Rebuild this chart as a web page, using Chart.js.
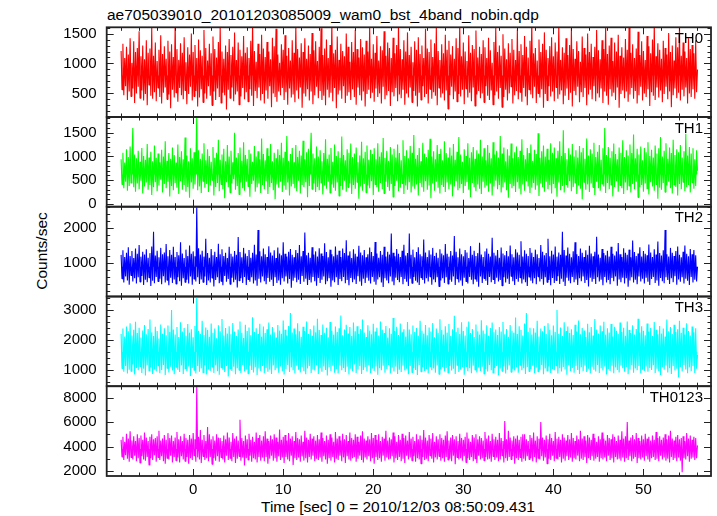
<!DOCTYPE html>
<html>
<head>
<meta charset="utf-8">
<script src="https://cdn.jsdelivr.net/npm/chart.js@4.4.1/dist/chart.umd.min.js"></script>
<style>
  body { margin: 0; background: #fff; }
  #wrap { position: relative; width: 717px; height: 516px; overflow: hidden;
          font-family: "Liberation Sans", Arial, Helvetica, sans-serif; color: #000; }
  #wrap canvas { position: absolute; left: 0; top: 0; }
  .txt { position: absolute; white-space: nowrap; font-size: 15.5px; line-height: 1; }
</style>
</head>
<body>
<div id="wrap">
  <div class="txt" style="left:107px;top:7px">ae705039010_20101203085009_wam0_bst_4band_nobin.qdp</div>
  <div class="txt" style="left:261px;top:498.6px">Time [sec] 0 = 2010/12/03 08:50:09.431</div>
  <div class="txt" style="left:42px;top:251px;transform:translate(-50%,-50%) rotate(-90deg)">Counts/sec</div>
  <canvas id="p0" width="717" height="516"></canvas>
  <canvas id="p1" width="717" height="516"></canvas>
  <canvas id="p2" width="717" height="516"></canvas>
  <canvas id="p3" width="717" height="516"></canvas>
  <canvas id="p4" width="717" height="516"></canvas>
</div>
<script>
// light curve bins: first bin at -8 s, 0.1 s wide
const binStart = -8;
const binSize = 0.1;

const bandNames = ['TH0', 'TH1', 'TH2', 'TH3', 'TH0123'];

const th0 = [
  1210, 560, 1330, 470, 1090, 620, 1280, 390, 1150, 530, 1420, 450, 1010, 580, 1370, 340, 1190, 500, 1260, 610,
  1540, 420, 1120, 550, 1300, 380, 1070, 490, 1390, 300, 1180, 640, 1250, 460, 1600, 410, 1130, 520, 1350, 370,
  1040, 590, 1230, 440, 1470, 330, 1160, 510, 1290, 600, 1080, 400, 1380, 480, 1200, 250, 1320, 560, 1110, 430,
  1650, 510, 1240, 360, 1060, 590, 1340, 470, 1180, 400, 1440, 550, 1020, 320, 1270, 490, 1150, 610, 1500, 380,
  1190, 450, 1310, 540, 1090, 280, 1400, 430, 1220, 570, 1130, 350, 1560, 500, 1260, 410, 1050, 620, 1330, 460,
  1170, 300, 1450, 530, 1240, 390, 1100, 580, 1360, 440, 1610, 340, 1200, 510, 1080, 470, 1300, 230, 1190, 560,
  1410, 420, 1140, 600, 1280, 370, 1520, 480, 1060, 530, 1350, 310, 1230, 450, 1120, 590, 1460, 400, 1180, 520,
  1270, 360, 1090, 570, 1380, 460, 1700, 290, 1210, 540, 1030, 420, 1330, 600, 1160, 380, 1480, 490, 1250, 330,
  1110, 550, 1360, 410, 1200, 620, 1070, 270, 1430, 500, 1290, 440, 1580, 360, 1150, 530, 1010, 470, 1320, 590,
  1230, 390, 1470, 520, 1130, 310, 1260, 580, 1050, 430, 1390, 480, 1180, 350, 1620, 550, 1240, 410, 1100, 600,
  1340, 260, 1190, 500, 1420, 450, 1080, 570, 1300, 380, 1160, 530, 1510, 320, 1220, 470, 1370, 610, 1040, 420,
  1280, 540, 1590, 390, 1140, 460, 1250, 300, 1400, 560, 1090, 430, 1310, 510, 1660, 370, 1170, 590, 1230, 250,
  1450, 480, 1060, 550, 1330, 410, 1210, 620, 1120, 340, 1500, 460, 1280, 520, 1030, 390, 1360, 570, 1190, 440,
  1560, 310, 1240, 600, 1100, 470, 1410, 380, 1270, 530, 1150, 280, 1380, 490, 1200, 560, 1630, 420, 1080, 510,
  1320, 360, 1180, 580, 1460, 440, 1050, 500, 1290, 330, 1220, 610, 1540, 400, 1130, 470, 1350, 540, 1260, 290,
  1090, 520, 1430, 450, 1170, 590, 1310, 370, 1680, 480, 1240, 420, 1070, 560, 1390, 310, 1200, 500, 1520, 430,
  1140, 600, 1280, 350, 1020, 540, 1370, 460, 1230, 280, 1440, 510, 1160, 390, 1300, 620, 1090, 440, 1580, 490,
  1250, 330, 1190, 570, 1400, 410, 1110, 520, 1340, 460, 1600, 300, 1210, 590, 1060, 430, 1320, 500, 1170, 380,
  1480, 550, 1230, 240, 1380, 470, 1150, 610, 1290, 400, 1080, 530, 1420, 360, 1260, 490, 1650, 450, 1120, 560,
  1350, 320, 1200, 580, 1040, 430, 1470, 510, 1180, 370, 1310, 600, 1240, 290, 1550, 480, 1100, 540, 1280, 420,
  1160, 500, 1390, 350, 1270, 620, 1090, 460, 1430, 390, 1220, 550, 1010, 310, 1360, 470, 1610, 530, 1190, 410,
  1300, 590, 1130, 270, 1490, 440, 1250, 560, 1070, 380, 1340, 500, 1180, 610, 1410, 330, 1230, 470, 1060, 540,
  1570, 400, 1210, 520, 1320, 360, 1140, 590, 1460, 450, 1280, 300, 1100, 560, 1380, 480, 1690, 420, 1170, 610,
  1260, 340, 1050, 500, 1400, 430, 1190, 570, 1330, 260, 1520, 490, 1230, 380, 1090, 620, 1290, 450, 1440, 530,
  1120, 370, 1350, 600, 1200, 410, 1630, 480, 1060, 550, 1270, 320, 1180, 460, 1420, 580, 1140, 390, 1310, 510,
  1590, 280, 1240, 540, 1080, 470, 1370, 610, 1210, 350, 1030, 520, 1450, 440, 1260, 590, 1150, 300, 1500, 480,
  1190, 560, 1330, 400, 1110, 620, 1280, 370, 1560, 500, 1220, 430, 1070, 580, 1390, 340, 1240, 530, 1640, 460,
  1160, 310, 1300, 570, 1430, 450, 1040, 510, 1350, 390, 1200, 600, 1480, 260, 1130, 490, 1270, 550, 1100, 420,
  1410, 530, 1230, 360, 1600, 480, 1180, 590, 1320, 410, 1090, 540, 1250, 330, 1530, 470, 1140, 610, 1370, 380,
  1210, 500, 1060, 440, 1460, 570, 1290, 290, 1170, 520, 1400, 460, 1660, 390, 1120, 600, 1340, 430, 1230, 550,
  1080, 350, 1380, 490, 1260, 610, 1150, 400, 1510, 530, 1190, 270, 1300, 470, 1050, 580, 1440, 420, 1270, 510,
  1620, 380, 1130, 560, 1350, 450, 1200, 600, 1090, 330, 1420, 500, 1240, 440, 1310, 570, 1170, 410, 1390, 520,
  900
];

const th1 = [
  940, 410, 1080, 330, 870, 470, 1150, 280, 990, 380, 1210, 440, 920, 1600, 350, 1040, 260, 960, 430, 1120,
  310, 890, 490, 1180, 220, 1010, 370, 930, 450, 1260, 300, 980, 400, 1100, 190, 900, 350, 1230, 460, 970,
  270, 1060, 390, 880, 510, 1140, 240, 1000, 420, 1320, 330, 910, 470, 1070, 160, 950, 380, 1190, 290, 1030,
  440, 870, 340, 1250, 210, 990, 480, 1110, 300, 940, 400, 1400, 260, 1020, 360, 900, 130, 1170, 450, 960,
  320, 1090, 410, 880, 1850, 290, 1130, 370, 950, 230, 1060, 480, 1280, 340, 920, 420, 1150, 250, 1010, 390,
  890, 500, 1200, 180, 970, 360, 1080, 440, 1350, 270, 930, 410, 1040, 310, 1160, 120, 900, 460, 1240, 350,
  1000, 240, 1120, 430, 880, 520, 1500, 300, 980, 380, 1070, 200, 1190, 450, 910, 330, 1300, 280, 1030, 470,
  950, 370, 1140, 150, 1060, 420, 890, 490, 1220, 260, 1000, 350, 1110, 430, 940, 230, 1380, 400, 1050, 310,
  920, 480, 1170, 210, 1010, 360, 1260, 440, 900, 290, 1080, 100, 960, 410, 1150, 340, 1030, 470, 1290, 250,
  970, 390, 1100, 300, 1430, 450, 910, 180, 1050, 370, 1180, 420, 880, 330, 1240, 270, 990, 490, 1120, 220,
  1020, 400, 1330, 350, 940, 460, 1090, 140, 1160, 380, 920, 1500, 310, 1060, 430, 960, 250, 1210, 360, 1000,
  290, 1130, 440, 900, 200, 1070, 390, 1360, 320, 950, 470, 1040, 230, 1180, 410, 890, 340, 1250, 280, 1010,
  450, 1110, 170, 970, 380, 1420, 300, 1030, 490, 920, 260, 1150, 350, 1080, 430, 1270, 210, 990, 400, 1060,
  320, 1190, 460, 880, 110, 1020, 370, 1310, 280, 960, 420, 1100, 240, 1230, 390, 930, 330, 1140, 480, 1050,
  190, 1170, 410, 940, 350, 1280, 260, 1000, 440, 1090, 310, 1390, 220, 970, 470, 1120, 360, 910, 280, 1200,
  420, 1040, 150, 1160, 380, 980, 490, 1250, 270, 1070, 340, 920, 430, 1340, 210, 1010, 390, 1130, 300, 960,
  460, 1220, 240, 1080, 370, 1450, 320, 950, 410, 1030, 180, 1180, 440, 900, 350, 1290, 260, 1060, 480, 990,
  300, 1140, 390, 1370, 120, 1000, 430, 1110, 280, 940, 470, 1240, 340, 1050, 220, 1160, 400, 920, 360, 1320,
  250, 1070, 450, 980, 310, 1190, 410, 1020, 160, 1260, 370, 930, 480, 1100, 290, 1410, 330, 1040, 420, 890,
  230, 1150, 380, 1010, 460, 1280, 300, 970, 140, 1090, 440, 1200, 350, 950, 270, 1130, 410, 1060, 320, 1350,
  210, 1000, 470, 1170, 340, 920, 390, 1240, 260, 1080, 430, 960, 180, 1300, 370, 1040, 490, 1120, 310, 980,
  400, 1430, 240, 1060, 350, 1190, 450, 900, 290, 1150, 130, 1020, 420, 1270, 330, 960, 380, 1090, 250, 1210,
  460, 990, 320, 1120, 200, 1360, 410, 1030, 280, 940, 480, 1180, 370, 1070, 230, 1250, 340, 910, 440, 1140,
  300, 1050, 390, 1490, 170, 970, 430, 1110, 350, 1230, 260, 1000, 470, 1160, 310, 930, 400, 1280, 220, 1080,
  420, 1190, 330, 960, 150, 1120, 450, 1320, 290, 1010, 380, 1550, 240, 1070, 410, 940, 340, 1170, 480, 1040,
  270, 1260, 360, 1000, 440, 1130, 210, 980, 390, 1220, 320, 1090, 100, 1180, 460, 950, 300, 1380, 410, 1020,
  250, 1150, 430, 1060, 350, 1290, 190, 990, 470, 1100, 330, 1240, 280, 930, 420, 1170, 370, 1600, 230, 1030,
  440, 1200, 310, 970, 400, 1110, 160, 1270, 360, 1050, 480, 940, 260, 1190, 390, 1080, 330, 1340, 210, 990,
  450, 1130, 290, 1020, 380, 1250, 240, 1070, 420, 1460, 310, 960, 470, 1160, 140, 1040, 350, 1210, 400, 920,
  260, 1180, 430, 1090, 320, 1300, 200, 1010, 460, 1140, 370, 980, 280, 1230, 410, 1060, 110, 1170, 340, 1410,
  300, 1000, 440, 1120, 250, 1280, 390, 950, 470, 1190, 330, 1070, 220, 1350, 400, 1030, 360, 1150, 180, 1090,
  420, 1240, 310, 980, 460, 1110, 270, 1480, 350, 1020, 400, 1200, 240, 1060, 450, 1170, 320, 940, 380, 1130,
  700
];

const th2 = [
  1240, 560, 1370, 450, 1180, 620, 1300, 510, 1460, 390, 1210, 650, 1350, 480, 1150, 570, 1420, 420, 1270, 600,
  1520, 470, 1190, 640, 1330, 380, 1250, 530, 1400, 460, 1160, 590, 1290, 350, 1480, 500, 1900, 430, 1220, 610,
  1360, 480, 1170, 560, 1440, 400, 1260, 630, 1310, 450, 1550, 520, 1200, 370, 1380, 590, 1240, 440, 1470, 540,
  1180, 410, 1320, 600, 1230, 490, 1600, 360, 1280, 570, 1150, 460, 1390, 530, 1210, 420, 1510, 620, 1270, 390,
  1340, 550, 1200, 480, 2600, 600, 1430, 410, 1250, 540, 1360, 460, 1190, 620, 1700, 380, 1290, 510, 1160, 450,
  1410, 580, 1230, 340, 1330, 520, 1180, 600, 1560, 430, 1260, 490, 1400, 370, 1210, 640, 1300, 470, 1150, 550,
  1470, 400, 1270, 590, 1190, 460, 1350, 530, 1240, 310, 1750, 500, 1320, 570, 1170, 440, 1440, 610, 1280, 380,
  1210, 540, 1380, 470, 1160, 600, 1300, 420, 1530, 510, 1250, 360, 1950, 560, 1340, 450, 1200, 620, 1420, 490,
  1260, 400, 1180, 580, 1490, 470, 1310, 530, 1220, 350, 1370, 600, 1150, 440, 1450, 510, 1280, 390, 1230, 570,
  1600, 480, 1270, 620, 1190, 420, 1330, 550, 1410, 300, 1240, 500, 1170, 590, 1380, 460, 1290, 530, 1520, 410,
  1200, 640, 1350, 470, 1880, 560, 1230, 380, 1300, 520, 1160, 450, 1460, 610, 1250, 490, 1340, 360, 1190, 580,
  1430, 440, 1280, 530, 1210, 620, 1570, 400, 1320, 490, 1170, 570, 1390, 330, 1260, 510, 1200, 460, 1480, 600,
  1240, 380, 1360, 550, 1180, 490, 1420, 610, 1290, 430, 1660, 520, 1220, 370, 1340, 580, 1150, 460, 1400, 540,
  1270, 410, 1190, 630, 1500, 480, 1310, 360, 1230, 560, 1380, 440, 1170, 590, 1260, 500, 1450, 420, 1320, 610,
  1210, 470, 1610, 390, 1280, 540, 1160, 600, 1350, 450, 1240, 320, 1470, 570, 1190, 510, 1330, 430, 1250, 620,
  1850, 480, 1300, 370, 1200, 590, 1410, 520, 1270, 460, 1180, 610, 1360, 400, 1530, 550, 1220, 470, 1290, 350,
  1850, 560, 1240, 430, 1390, 610, 1170, 500, 1320, 450, 1460, 380, 1260, 590, 1200, 520, 1680, 420, 1310, 570,
  1180, 480, 1370, 620, 1250, 390, 1440, 540, 1210, 460, 1300, 600, 1160, 340, 1400, 510, 1280, 570, 1230, 440,
  1550, 600, 1270, 410, 1190, 530, 1350, 470, 1220, 620, 1780, 380, 1330, 560, 1170, 450, 1420, 510, 1260, 360,
  1200, 590, 1380, 480, 1310, 420, 1150, 610, 1490, 530, 1240, 400, 1360, 550, 1210, 470, 1290, 330, 1590, 620,
  1250, 440, 1180, 570, 1340, 500, 1420, 380, 1270, 610, 1190, 460, 1730, 540, 1300, 410, 1220, 590, 1380, 480,
  1160, 520, 1450, 360, 1280, 600, 1230, 450, 1350, 560, 1200, 410, 1510, 630, 1260, 490, 1170, 380, 1400, 550,
  1310, 470, 1240, 590, 1630, 420, 1190, 540, 1370, 460, 1270, 350, 1210, 610, 1440, 500, 1300, 430, 1180, 570,
  1390, 400, 1260, 620, 1150, 480, 1520, 550, 1330, 390, 1230, 600, 1290, 460, 1700, 520, 1200, 370, 1360, 580,
  1250, 440, 1480, 510, 1190, 630, 1310, 410, 1240, 560, 1900, 470, 1380, 350, 1220, 590, 1450, 500, 1270, 430,
  1170, 610, 1340, 460, 1600, 540, 1260, 380, 1210, 570, 1420, 490, 1300, 620, 1180, 440, 1370, 520, 1240, 340,
  1500, 590, 1280, 470, 1200, 550, 1330, 410, 1760, 600, 1250, 480, 1160, 530, 1410, 370, 1290, 610, 1230, 450,
  1360, 520, 1190, 400, 1470, 580, 1270, 490, 1220, 620, 1340, 360, 1580, 540, 1260, 460, 1180, 590, 1430, 420,
  1300, 570, 1240, 330, 1390, 510, 1170, 600, 1650, 450, 1320, 530, 1210, 400, 1280, 620, 1460, 480, 1190, 560,
  1350, 420, 1270, 590, 1230, 470, 1540, 380, 1310, 550, 1180, 610, 1400, 440, 1250, 510, 1620, 360, 1290, 580,
  1220, 490, 1370, 430, 1950, 600, 1260, 520, 1190, 410, 1440, 570, 1300, 460, 1210, 630, 1350, 390, 1480, 540,
  1240, 470, 1170, 600, 1330, 420, 1510, 560, 1270, 500, 1200, 380, 1410, 610, 1260, 450, 1380, 530, 1230, 480,
  900
];

const th3 = [
  2200, 1050, 2380, 940, 2120, 1130, 2450, 880, 2290, 1010, 2560, 960, 2150, 1180, 2340, 850, 2610, 1070, 2230, 990,
  2410, 1120, 2080, 900, 2320, 1040, 2500, 820, 2190, 1160, 2370, 970, 2680, 1080, 2260, 870, 2130, 1020, 2440, 950,
  2300, 1140, 2050, 890, 2520, 1000, 2210, 1170, 2390, 830, 2160, 1060, 2480, 920, 2270, 1110, 3000, 980, 2350, 860,
  2180, 1090, 2430, 1010, 2100, 930, 2590, 1150, 2280, 870, 2400, 1040, 2140, 960, 2530, 1120, 2250, 800, 2360, 1070,
  2090, 990, 2470, 880, 3450, 1130, 2310, 940, 2200, 1050, 2640, 910, 2170, 1160, 2420, 850, 2330, 1020, 2110, 970,
  2550, 1100, 2240, 900, 2380, 1150, 2060, 960, 2490, 840, 2290, 1080, 2700, 1010, 2150, 930, 2400, 1130, 2220, 780,
  2460, 1040, 2190, 970, 2570, 1110, 2280, 860, 2130, 1060, 2350, 990, 2620, 900, 2240, 1170, 2070, 950, 2510, 1020,
  2300, 880, 2420, 1140, 2160, 1000, 2760, 920, 2270, 1090, 2390, 830, 2200, 1050, 2540, 970, 2120, 1130, 2450, 890,
  2230, 1070, 2360, 940, 2580, 1010, 2180, 870, 2430, 1150, 2260, 990, 2080, 1060, 2500, 910, 2320, 1120, 2210, 960,
  2650, 850, 2340, 1030, 2150, 1170, 2470, 930, 2900, 1080, 2250, 990, 2380, 880, 2190, 1140, 2560, 1010, 2290, 920,
  2110, 1100, 2440, 960, 2300, 860, 2620, 1050, 2200, 1130, 2370, 900, 2140, 1020, 2480, 980, 2260, 1160, 2710, 870,
  2330, 1060, 2170, 940, 2520, 1120, 2240, 1000, 2410, 820, 2090, 1090, 2600, 970, 2310, 1140, 2180, 910, 2450, 1030,
  2270, 880, 2390, 1150, 2820, 990, 2160, 1070, 2350, 930, 2510, 1110, 2220, 850, 2430, 1040, 2130, 960, 2580, 1180,
  2290, 900, 2460, 1020, 2200, 1130, 2370, 870, 2680, 1000, 2250, 1090, 2100, 950, 2490, 1160, 2320, 890, 2190, 1050,
  2540, 970, 2280, 1120, 2410, 840, 2150, 1060, 2620, 990, 2340, 1140, 2230, 910, 2470, 1030, 2080, 1170, 2390, 880,
  2210, 1080, 2730, 950, 2300, 1110, 2440, 870, 2170, 1010, 2550, 930, 2260, 1150, 2360, 980, 2120, 1040, 2600, 860,
  2350, 1130, 2190, 920, 2480, 1060, 2270, 1000, 2400, 830, 2140, 1170, 2640, 940, 2310, 1090, 2220, 970, 2500, 1030,
  2160, 880, 2420, 1120, 2280, 990, 2570, 1050, 2090, 910, 2380, 1150, 2240, 860, 2690, 1020, 2330, 1100, 2180, 950,
  2460, 1070, 2250, 900, 2530, 1130, 2130, 980, 2360, 1040, 2810, 870, 2270, 1160, 2410, 930, 2200, 1010, 2590, 1090,
  2300, 840, 2150, 1120, 2440, 960, 2620, 1060, 2230, 890, 2370, 1140, 2100, 1000, 2520, 920, 2290, 1080, 2180, 970,
  2660, 1110, 2320, 870, 2210, 1030, 2490, 950, 2140, 1170, 2400, 990, 2580, 900, 2260, 1070, 2350, 1130, 2170, 820,
  2430, 1050, 2280, 960, 2600, 1120, 2190, 880, 2370, 1010, 2110, 1150, 2500, 930, 2310, 1040, 2240, 980, 2750, 1090,
  2200, 910, 2460, 1160, 2330, 990, 2150, 1060, 2550, 870, 2900, 1100, 2270, 950, 2410, 1030, 2180, 1140, 2390, 890,
  2250, 1080, 2640, 940, 2120, 1010, 2380, 1170, 2290, 860, 2470, 1050, 2200, 970, 2560, 1120, 2340, 900, 2160, 1030,
  2480, 990, 2270, 1140, 3000, 880, 2210, 1060, 2420, 950, 2130, 1100, 2590, 1020, 2300, 840, 2450, 1160, 2230, 960,
  2360, 1070, 2170, 910, 2510, 1130, 2280, 1000, 2650, 870, 2190, 1090, 2400, 960, 2320, 1150, 2100, 930, 2540, 1040,
  2260, 880, 2430, 1110, 2150, 1010, 2700, 950, 2350, 1170, 2220, 900, 2480, 1060, 2290, 980, 2610, 1120, 2180, 850,
  2390, 1030, 2250, 970, 2530, 1140, 2120, 890, 2440, 1080, 2310, 1000, 2200, 920, 2580, 1150, 2270, 1060, 2410, 940,
  2140, 1100, 2620, 860, 2330, 1020, 2230, 1160, 2490, 910, 2180, 1050, 2370, 990, 2710, 1130, 2250, 880, 2460, 1010,
  2310, 970, 2160, 1120, 2550, 940, 2280, 1070, 2400, 1000, 2130, 1160, 2600, 900, 2340, 1040, 2190, 960, 2470, 830,
  2220, 1090, 2380, 1010, 2120, 1150, 2680, 920, 2290, 1060, 2430, 870, 2200, 1130, 2510, 980, 2270, 1040, 2360, 750,
  2640, 1100, 2240, 950, 2410, 1170, 2180, 1020, 2560, 890, 2300, 1080, 2150, 960, 2450, 1130, 2260, 900, 2390, 1040,
  1500
];

const th0123 = [
  4550, 3150, 4800, 2900, 4400, 3300, 5050, 3000, 4650, 2750, 5250, 3100, 4500, 2950, 4850, 3250, 4450, 2800, 5000, 3050,
  4700, 2650, 4900, 3200, 4550, 2950, 5150, 2850, 4750, 3150, 4450, 2500, 4800, 3050, 5000, 2900, 4600, 3300, 4700, 2750,
  4850, 3100, 5300, 2900, 4500, 3200, 4650, 2800, 4950, 2600, 4550, 3050, 5100, 2950, 4700, 3250, 4900, 2700, 4450, 3150,
  4750, 2850, 5200, 3100, 4600, 2700, 4850, 3200, 4450, 2950, 5050, 2800, 4700, 3150, 4550, 2600, 4950, 3050, 4650, 2900,
  5100, 3250, 4600, 2750, 8900, 3100, 4800, 2950, 5350, 2650, 4550, 3200, 4950, 2900, 4450, 3050, 5600, 2800, 5000, 3150,
  4600, 2550, 4850, 3050, 4500, 2850, 5000, 3200, 4750, 2750, 4700, 3100, 4450, 2950, 4900, 2700, 4600, 3250, 5150, 2900,
  4750, 3050, 4400, 2800, 5100, 3150, 4650, 2650, 4850, 3000, 4500, 3200, 6200, 2850, 4700, 3100, 4450, 2450, 4900, 3050,
  4600, 2900, 5050, 3250, 4550, 2750, 4800, 3050, 4400, 2950, 5150, 2700, 4700, 3150, 4950, 2850, 4500, 3100, 4850, 2800,
  5250, 3150, 4650, 2600, 4450, 3000, 4900, 3250, 4600, 2850, 5000, 3050, 4750, 2750, 4400, 3200, 5400, 2900, 4550, 3100,
  4800, 2650, 4950, 3150, 4500, 2950, 5100, 2800, 4650, 3250, 4850, 2500, 4450, 3050, 5200, 2900, 4700, 3100, 4600, 2750,
  4900, 3200, 4400, 2850, 5300, 3050, 4750, 2700, 4550, 3150, 5050, 2950, 4650, 3250, 4850, 2800, 4500, 3000, 4950, 2900,
  4600, 3100, 5150, 2750, 4700, 3200, 4450, 2950, 4900, 2600, 4550, 3050, 5000, 2850, 4750, 3150, 4400, 2700, 5200, 3000,
  4650, 2900, 4850, 3250, 4500, 2800, 5050, 3100, 4600, 2650, 4950, 3200, 4450, 2950, 5150, 2850, 4700, 3050, 4550, 3150,
  5000, 2750, 4800, 3000, 4400, 3250, 4900, 2900, 5250, 2700, 4650, 3100, 4500, 2950, 4850, 3200, 4600, 2800, 5100, 3050,
  4700, 2600, 4950, 3150, 4550, 2900, 5000, 3050, 4450, 2750, 4800, 3250, 4650, 2850, 5300, 3100, 4500, 2950, 4750, 3000,
  4600, 3200, 5150, 2700, 4850, 3050, 4400, 2900, 4950, 3150, 4550, 2800, 5050, 3000, 4700, 2650, 4900, 3250, 4500, 2950,
  5200, 3100, 4650, 2850, 4800, 3200, 4450, 2750, 5000, 3050, 4600, 2950, 4900, 2600, 4550, 3150, 5350, 2900, 4750, 3000,
  4500, 2800, 4950, 3250, 4650, 3000, 5100, 2700, 4400, 3100, 4850, 2950, 4600, 3200, 5000, 2850, 4700, 3050, 4550, 2750,
  4900, 3150, 5250, 2900, 4500, 3000, 4750, 2800, 4950, 3250, 4600, 2550, 4850, 3100, 4450, 2950, 5050, 3050, 4700, 2850,
  4550, 3200, 4800, 2700, 5150, 3050, 4650, 2900, 4400, 3150, 4950, 2800, 4750, 3000, 5000, 2650, 4600, 3250, 4850, 2950,
  4700, 3050, 4500, 2850, 5200, 3150, 4650, 2950, 4900, 3000, 4450, 2750, 5050, 3200, 4600, 2900, 4800, 3100, 4550, 2800,
  5100, 2950, 4700, 3250, 4450, 2700, 6100, 3050, 4600, 2850, 5300, 3150, 4750, 2950, 4500, 3200, 4850, 2600, 4650, 3050,
  4900, 2900, 4550, 3100, 4800, 2750, 5000, 3000, 5000, 2850, 4600, 3200, 4450, 2950, 4950, 3050, 4700, 2800, 5150, 3150,
  4500, 2700, 4850, 3050, 4650, 2950, 6000, 3200, 4750, 2850, 4550, 3100, 4900, 2600, 4600, 3000, 5050, 2900, 4700, 3250,
  4450, 2800, 5200, 3050, 4650, 2950, 4800, 3150, 4550, 2700, 5000, 3000, 4750, 2850, 4500, 3200, 4950, 2900, 4600, 3100,
  5100, 2750, 4700, 3050, 4450, 2950, 4900, 3250, 4600, 2800, 5300, 3000, 4650, 2900, 4850, 3150, 4500, 2650, 4950, 3050,
  4750, 2900, 4550, 3200, 5050, 2850, 4700, 3000, 4400, 3150, 4850, 2750, 4600, 3050, 5150, 2950, 4650, 3100, 4500, 2800,
  4950, 3250, 4700, 2900, 4600, 3050, 5000, 2700, 4800, 3150, 4450, 2950, 4900, 3000, 4550, 2850, 5250, 3100, 4650, 2750,
  4850, 3050, 6000, 2900, 4500, 3200, 4750, 2800, 4950, 3000, 4600, 3150, 5100, 2650, 4700, 3050, 4450, 2950, 4900, 3100,
  4600, 2850, 5050, 3200, 4650, 2950, 4800, 2750, 4500, 3050, 4900, 3150, 4550, 2900, 5200, 3000, 4700, 2800, 4850, 3250,
  4550, 2950, 4750, 3100, 5000, 2850, 4600, 3000, 4900, 2700, 5300, 3150, 4650, 2900, 4500, 3050, 4800, 2800, 4950, 3100,
  4600, 2850, 4700, 1900, 4850, 3050, 4450, 2950, 5100, 3200, 4650, 2750, 4900, 3000, 4550, 3100, 4800, 2900, 4700, 3050,
  4100
];

// labelled y ticks per panel
const th0Ticks = [500, 1000, 1500];
const th1Ticks = [0, 500, 1000, 1500];
const th2Ticks = [1000, 2000];
const th3Ticks = [1000, 2000, 3000];
const th0123Ticks = [2000, 4000, 6000, 8000];
const xTickLabels = [0, 10, 20, 30, 40, 50];

const FONT = '"Liberation Sans", Arial, Helvetica, sans-serif';
const plotLeft = 106.7, plotRight = 711;
const panelEdges = [27.3, 117, 206.7, 296.5, 386.2, 476];

const panels = [
  { name: bandNames[0], values: th0,    ticks: th0Ticks,    color: '#ff0000', base: 800,  min: 105,  max: 1605, minor: 100 },
  { name: bandNames[1], values: th1,    ticks: th1Ticks,    color: '#00ff00', base: 620,  min: -57,  max: 1830, minor: 100 },
  { name: bandNames[2], values: th2,    ticks: th2Ticks,    color: '#0000ff', base: 900,  min: 51,   max: 2617, minor: 200 },
  { name: bandNames[3], values: th3,    ticks: th3Ticks,    color: '#00ffff', base: 1600, min: 460,  max: 3450, minor: 200 },
  { name: bandNames[4], values: th0123, ticks: th0123Ticks, color: '#ff00ff', base: 3800, min: 1591, max: 8941, minor: 1000 }
];

// QDP-style frame: inward ticks on all four sides, band name top right
const framePlugin = {
  id: 'frame',
  afterDatasetsDraw(chart, args, opts) {
    const { ctx, chartArea: a } = chart;
    const xs = chart.scales.x, ys = chart.scales.y;
    ctx.save();
    ctx.strokeStyle = '#222';
    ctx.lineWidth = 1;
    ctx.beginPath();
    for (let t = -8; t <= 56; t += 2) {
      const px = Math.round(xs.getPixelForValue(t)) + 0.5;
      const len = t % 10 === 0 ? 7 : 3.5;
      ctx.moveTo(px, a.top); ctx.lineTo(px, a.top + len);
      ctx.moveTo(px, a.bottom); ctx.lineTo(px, a.bottom - len);
    }
    const start = Math.ceil(ys.min / opts.minor) * opts.minor;
    for (let v = start; v <= ys.max; v += opts.minor) {
      const py = Math.round(ys.getPixelForValue(v)) + 0.5;
      const len = opts.major.includes(v) ? 7 : 3.5;
      ctx.moveTo(a.left, py); ctx.lineTo(a.left + len, py);
      ctx.moveTo(a.right, py); ctx.lineTo(a.right - len, py);
    }
    ctx.stroke();
    ctx.lineWidth = 1.8;
    ctx.strokeRect(a.left, a.top, a.right - a.left, a.bottom - a.top);
    ctx.fillStyle = '#000';
    ctx.font = '15px ' + FONT;
    ctx.textAlign = 'right';
    ctx.textBaseline = 'alphabetic';
    ctx.fillText(opts.label, a.right - 8, a.top + 15.5);
    ctx.restore();
  }
};

panels.forEach((p, i) => {
  const last = i === panels.length - 1;
  const top = panelEdges[i], bottom = panelEdges[i + 1];
  new Chart(document.getElementById('p' + i), {
    type: 'line',
    data: {
      datasets: [{
        data: p.values.map((v, k) => ({ x: binStart + binSize * k, y: v })),
        borderColor: p.color,
        backgroundColor: p.color,
        borderWidth: 1.1,
        borderJoinStyle: 'bevel',
        pointRadius: 0,
        tension: 0,
        fill: { value: p.base }
      }]
    },
    options: {
      responsive: false,
      animation: false,
      devicePixelRatio: 1,
      layout: { padding: { left: 0, right: 717 - plotRight, top: top, bottom: last ? 0 : 516 - bottom } },
      plugins: {
        legend: { display: false },
        tooltip: { enabled: false },
        frame: { label: p.name, major: p.ticks, minor: p.minor }
      },
      scales: {
        x: {
          type: 'linear',
          min: -9.6,
          max: 57.5,
          display: last,
          afterBuildTicks: s => { s.ticks = xTickLabels.map(v => ({ value: v })); },
          afterFit: s => {
            if (!last) return;
            s.height = 516 - bottom; s.paddingLeft = 0; s.paddingRight = 0;
          },
          grid: { display: false, drawTicks: false },
          border: { display: false },
          ticks: { color: '#000', font: { family: FONT, size: 15 }, padding: 5, maxRotation: 0, autoSkip: false,
                   callback: v => String(v) }
        },
        y: {
          min: p.min,
          max: p.max,
          afterBuildTicks: s => { s.ticks = p.ticks.map(v => ({ value: v })); },
          afterFit: s => { s.width = plotLeft; s.paddingTop = 0; s.paddingBottom = 0; },
          grid: { display: false, drawTicks: false },
          border: { display: false },
          ticks: { color: '#000', font: { family: FONT, size: 15 }, padding: 10, callback: v => String(v) }
        }
      }
    },
    plugins: [framePlugin]
  });
});
</script>
</body>
</html>
